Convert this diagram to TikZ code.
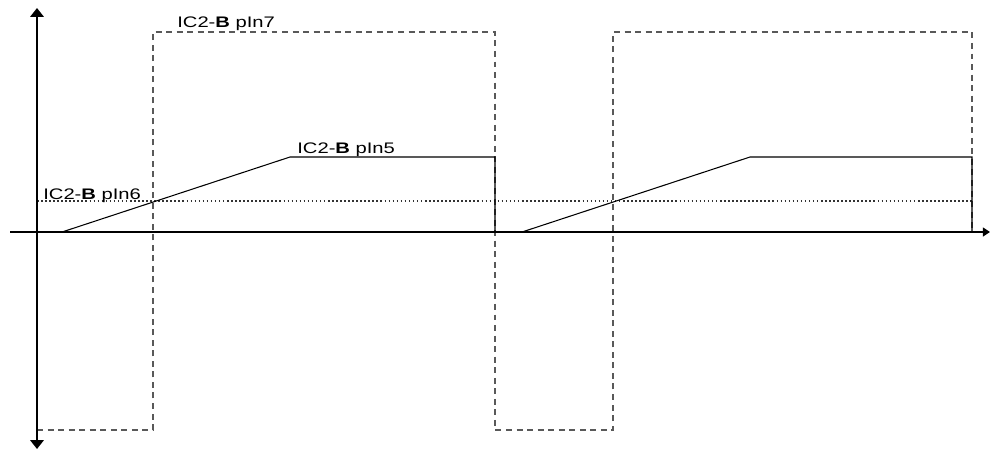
\documentclass[tikz,border=0pt]{standalone}
\usepackage{fontspec}
\setmainfont{Liberation Sans}
\usepackage{graphicx}
\usetikzlibrary{arrows.meta, positioning}

\newcommand{\pinlabel}[1]{\scalebox{1.32}[1]{IC2-\textbf{B} pIn#1}}

\begin{document}
\begin{tikzpicture}[
	x=0.02cm, y=-0.02cm,
	vaxis/.style={line width=1.5pt, {Triangle[width=7.5pt,length=5pt]}-{Triangle[width=7.5pt,length=5pt]}},
	haxis/.style={line width=0.8pt, -{Triangle[width=5pt,length=4pt]}},
	pinseven/.style={draw=black!65, line width=0.6pt, dash pattern=on 3.4pt off 2.6pt},
	pinfive/.style={draw=black, line width=0.6pt},
	pinsix/.style={draw=black!80, line width=0.6pt, dash pattern=on 0.9pt off 1.4pt},
	lbl/.style={anchor=base west, inner sep=0pt, font=\fontsize{8.7}{10}\selectfont}
]
\useasboundingbox (0,0) rectangle (990,450);

% Axes end points
\coordinate (Vtop) at (37,8);
\coordinate (Vbot) at (37,449);
\coordinate (Hleft) at (10,232);
\coordinate (Hright) at (990,232);

% IC2-B pin 7 (square wave)
\draw[pinseven] (37,430) -- (153,430) -- (153,32) -- (495,32) -- (495,430)
	-- (613,430) -- (613,32) -- (972,32) -- (972,232);

% IC2-B pin 6 (reference level)
\draw[pinsix] (37,201) -- (972,201);

% IC2-B pin 5 (ramp)
\draw[pinfive] (62,232) -- (290,157) -- (495,157) -- (495,232);
\draw[pinfive] (522,232) -- (750,157) -- (972,157) -- (972,232);

% Axes
\draw[haxis] (Hleft) -- (Hright);
\draw[vaxis] (Vbot) -- (Vtop);

% Labels
\node[lbl] (L7) at (177,27) {\pinlabel{7}};
\node[lbl] (L5) at (297,153) {\pinlabel{5}};
\node[lbl] (L6) at (43,199) {\pinlabel{6}};
\end{tikzpicture}
\end{document}
